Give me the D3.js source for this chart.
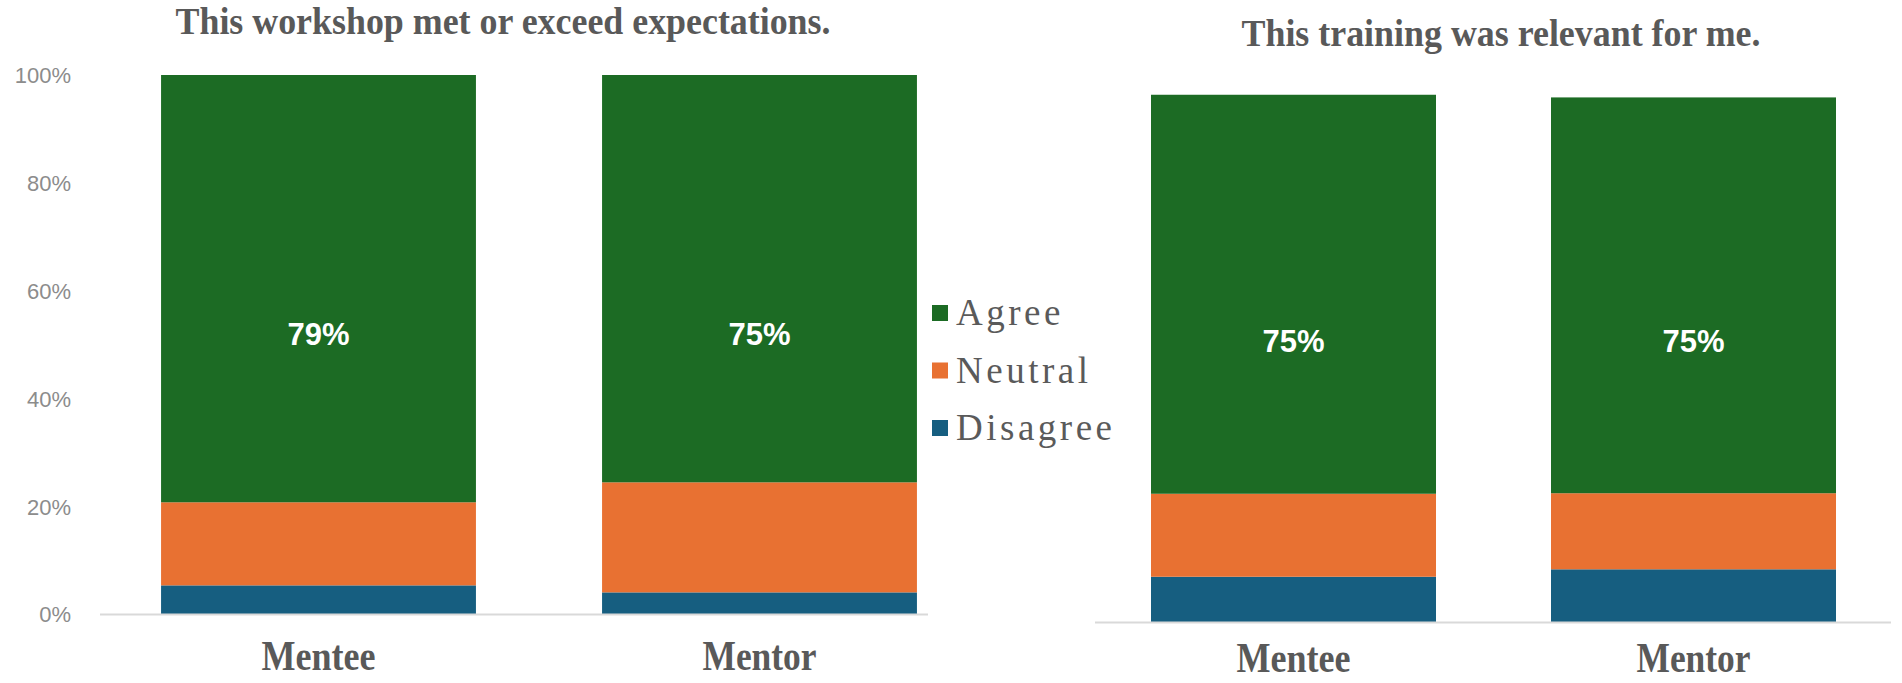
<!DOCTYPE html>
<meta charset="utf-8">
<style>
    body { margin: 0; background: #fff; }
    .title { font: bold 38px "Liberation Serif", "Times New Roman", serif; fill: #595959; text-anchor: middle; }
    .xlab { font: bold 43px "Liberation Serif", "Times New Roman", serif; fill: #595959; text-anchor: middle; }
    .ylab { font: 22px "Liberation Sans", Arial, sans-serif; fill: #8c8c8c; text-anchor: end; }
    .val { font: bold 31px "Liberation Sans", Arial, sans-serif; fill: #fff; text-anchor: middle; }
    .leg { font: 37px "Liberation Serif", "Times New Roman", serif; fill: #5a5a5a; letter-spacing: 3.5px; }
</style>
<svg width="1902" height="683"></svg>
<script src="https://cdnjs.cloudflare.com/ajax/libs/d3/7.8.5/d3.min.js"></script>
<script>
    var categories = ["Mentee", "Mentor"];
    var seriesNames = ["Disagree", "Neutral", "Agree"];
    var legendOrder = ["Agree", "Neutral", "Disagree"];
    var yTicks = [0, 0.2, 0.4, 0.6, 0.8, 1];

    // chart 1: This workshop met or exceed expectations.
    var workshopDisagree = [5.4, 4.1];
    var workshopNeutral = [15.4, 20.4];
    var workshopAgree = [79.2, 75.5];
    var workshopLabels = ["79%", "75%"];

    // chart 2: This training was relevant for me.
    var relevantDisagree = [8.6, 10.0];
    var relevantNeutral = [15.6, 14.3];
    var relevantAgree = [75.0, 74.4];
    var relevantLabels = ["75%", "75%"];

    var colors = {
        Agree: "#1c6b24",
        Neutral: "#e87132",
        Disagree: "#165e80"
    };

    var svg = d3.select("svg");

    function rows(dis, neu, agr) {
        return categories.map(function(c, i) {
            return { cat: c, Disagree: dis[i] / 100, Neutral: neu[i] / 100, Agree: agr[i] / 100 };
        });
    }

    function drawChart(opt) {
        var x = d3.scaleBand()
            .domain(categories)
            .range(opt.xRange)
            .paddingInner(opt.pad)
            .paddingOuter(opt.pad / 2);
        var y = d3.scaleLinear().domain([0, 1]).range(opt.yRange);

        var g = svg.append("g");

        var stacked = d3.stack().keys(seriesNames)(opt.data);

        g.selectAll(".layer")
            .data(stacked)
            .enter().append("g")
            .attr("fill", function(d) { return colors[d.key]; })
            .selectAll("rect")
            .data(function(d) { return d; })
            .enter().append("rect")
            .attr("x", function(d) { return x(d.data.cat); })
            .attr("width", x.bandwidth())
            .attr("y", function(d) { return y(d[1]); })
            .attr("height", function(d) { return y(d[0]) - y(d[1]); });

        // baseline
        g.append("line")
            .attr("x1", opt.baseLine[0]).attr("x2", opt.baseLine[1])
            .attr("y1", y(0)).attr("y2", y(0))
            .attr("stroke", "#d9d9d9").attr("stroke-width", 2);

        if (opt.showY) {
            g.selectAll(".ylab")
                .data(yTicks)
                .enter().append("text")
                .attr("class", "ylab")
                .attr("x", 71)
                .attr("y", function(d) { return y(d); })
                .attr("dy", "0.36em")
                .text(d3.format(".0%"));
        }

        g.selectAll(".val")
            .data(opt.labels)
            .enter().append("text")
            .attr("class", "val")
            .attr("x", function(d, i) { return x(categories[i]) + x.bandwidth() / 2; })
            .attr("y", y(opt.labelAt))
            .attr("dy", "0.36em")
            .text(function(d) { return d; });

        g.selectAll(".xlab")
            .data(categories)
            .enter().append("text")
            .attr("class", "xlab")
            .attr("x", function(d) { return x(d) + x.bandwidth() / 2; })
            .attr("y", opt.xLabY)
            .attr("textLength", 114)
            .attr("lengthAdjust", "spacingAndGlyphs")
            .text(function(d) { return d; });

        g.append("text")
            .attr("class", "title")
            .attr("x", opt.titleX)
            .attr("y", opt.titleY)
            .attr("textLength", opt.titleLen)
            .attr("lengthAdjust", "spacingAndGlyphs")
            .text(opt.title);
    }

    drawChart({
        data: rows(workshopDisagree, workshopNeutral, workshopAgree),
        labels: workshopLabels,
        xRange: [98, 980], pad: 0.286,
        yRange: [614.5, 75],
        baseLine: [100, 928],
        showY: true,
        labelAt: 0.52,
        xLabY: 670,
        title: "This workshop met or exceed expectations.",
        titleX: 503, titleY: 34, titleLen: 655
    });

    drawChart({
        data: rows(relevantDisagree, relevantNeutral, relevantAgree),
        labels: relevantLabels,
        xRange: [1093.5, 1893.5], pad: 0.2875,
        yRange: [622.5, 90.5],
        baseLine: [1095, 1891],
        showY: false,
        labelAt: 0.53,
        xLabY: 672,
        title: "This training was relevant for me.",
        titleX: 1501, titleY: 46, titleLen: 519
    });

    // legend
    var legend = svg.append("g").attr("transform", "translate(932,305)");
    var item = legend.selectAll("g")
        .data(legendOrder)
        .enter().append("g")
        .attr("transform", function(d, i) { return "translate(0," + i * 57.5 + ")"; });
    item.append("rect")
        .attr("width", 16).attr("height", 16)
        .attr("fill", function(d) { return colors[d]; });
    item.append("text")
        .attr("class", "leg")
        .attr("x", 24)
        .attr("y", 20)
        .text(function(d) { return d; });
</script>
